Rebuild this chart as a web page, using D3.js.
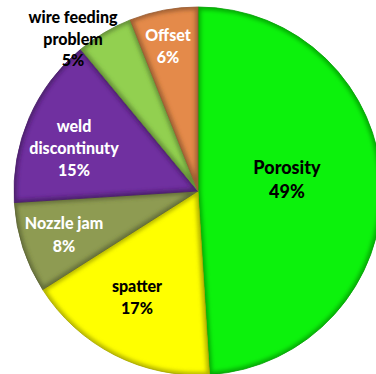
<!DOCTYPE html>
<html>
<head>
<meta charset="utf-8">
<script src="https://cdn.jsdelivr.net/npm/d3@7"></script>
<style>
  html, body { margin: 0; padding: 0; background: #fff; }
  svg { display: block; }
</style>
</head>
<body>
<svg id="chart" width="376" height="374"></svg>
<script>
// Defect categories in drawing order (clockwise from 12 o'clock)
const categories = ["Porosity", "spatter", "Nozzle jam", "weld discontinuty", "wire feeding problem", "Offset"];
const values = [49, 17, 8, 15, 5, 6];
const colors = ["#0cf20c", "#ffff00", "#8e9b52", "#7030a0", "#92d050", "#e48a4a"];
const labelLines = [["Porosity", "49%"], ["spatter", "17%"], ["Nozzle jam", "8%"],
                    ["weld", "discontinuty", "15%"], ["wire feeding", "problem", "5%"], ["Offset", "6%"]];
const labelColors = ["#000", "#000", "#fff", "#fff", "#000", "#fff"];
// label anchor (centre x, first baseline y) and line spacing
const labelPos = [[287, 174, 24], [137, 292, 22], [64, 229, 23], [74, 132, 22], [73, 23, 21.5], [168, 41, 22]];
const labelSize = [18, 16, 16, 16, 16, 16];

const svg = d3.select("#chart");
const cx = 198, cy = 191, r = 184;

const pie = d3.pie().sort(null).value(d => d)(values);
const arc = d3.arc().innerRadius(0).outerRadius(r);

const defs = svg.append("defs");
defs.append("filter").attr("id", "soft")
  .append("feGaussianBlur").attr("stdDeviation", 2);

const g = svg.append("g").attr("transform", `translate(${cx},${cy})`);

pie.forEach((p, i) => {
  defs.append("clipPath").attr("id", "clip" + i)
    .append("path").attr("d", arc(p));
  const s = g.append("g");
  s.append("path").attr("d", arc(p)).attr("fill", colors[i]);
  // inner bevel shading along slice edges
  s.append("g").attr("clip-path", `url(#clip${i})`)
    .append("path").attr("d", arc(p))
    .attr("fill", "none")
    .attr("stroke", d3.color(colors[i]).darker(1.6))
    .attr("stroke-width", 5)
    .attr("stroke-opacity", 0.75)
    .attr("filter", "url(#soft)");
  s.append("path").attr("d", arc(p))
    .attr("fill", "none")
    .attr("stroke", d3.color(colors[i]).darker(1.2))
    .attr("stroke-width", 0.8);
});

// Labels
pie.forEach((p, i) => {
  const [x, y, dy] = labelPos[i];
  const t = svg.append("text")
    .attr("x", x).attr("y", y)
    .attr("text-anchor", "middle")
    .attr("font-family", "Lato, 'Noto Sans', sans-serif")
    .attr("font-weight", 900)
    .attr("font-size", labelSize[i])
    .attr("fill", labelColors[i]);
  labelLines[i].forEach((line, j) => {
    t.append("tspan").attr("x", x).attr("y", y + j * dy).text(line);
  });
});
</script>
</body>
</html>
